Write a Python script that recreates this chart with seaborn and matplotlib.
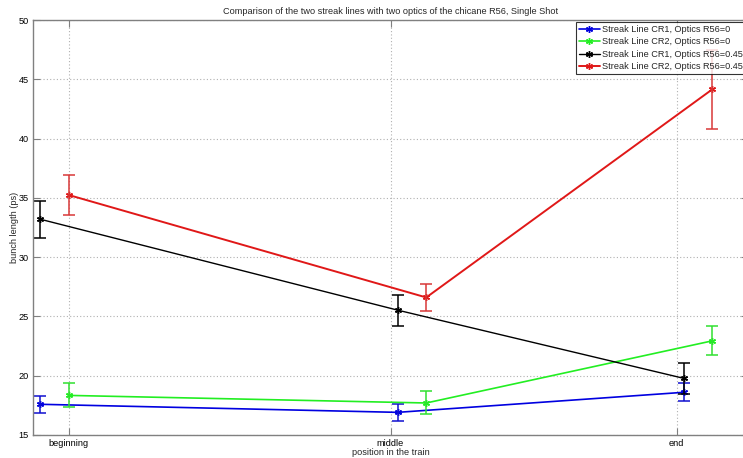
import numpy as np
import pandas as pd
import matplotlib
matplotlib.use("Agg")
import matplotlib.pyplot as plt
import seaborn as sns

# ---- data ----
tick_pos = [5, 50, 90]
tick_labels = ["beginning", "middle", "end"]
x_cr1 = [1, 51, 91]
x_cr2 = [5, 55, 95]

cr1_r0 = [17.59, 16.91, 18.60]
cr1_r0_err = [0.73, 0.74, 0.77]
cr2_r0 = [18.34, 17.70, 22.94]
cr2_r0_err = [1.02, 0.97, 1.22]
cr1_r45 = [33.20, 25.53, 19.78]
cr1_r45_err = [1.56, 1.30, 1.33]
cr2_r45 = [35.24, 26.60, 44.15]
cr2_r45_err = [1.70, 1.14, 3.35]

series_names = ["Streak Line CR1, Optics R56=0",
                "Streak Line CR2, Optics R56=0",
                "Streak Line CR1, Optics R56=0.45",
                "Streak Line CR2, Optics R56=0.45"]
series_x = [x_cr1, x_cr2, x_cr1, x_cr2]
series_y = [cr1_r0, cr2_r0, cr1_r45, cr2_r45]
series_err = [cr1_r0_err, cr2_r0_err, cr1_r45_err, cr2_r45_err]
colors = ["#0000e0", "#22ee22", "#000000", "#e01818"]
err_colors = ["#1010d0", "#30e030", "#000000", "#d83838"]
lws = [1.2, 1.2, 1.0, 1.4]

rows = []
for name, xs, ys, es in zip(series_names, series_x, series_y, series_err):
    for xv, yv, ev in zip(xs, ys, es):
        rows.append({"series": name, "x": xv, "y": yv, "err": ev})
df = pd.DataFrame(rows)

FS = 6.6
sns.set_style("white")
plt.rcParams['font.family'] = ['Liberation Sans', 'DejaVu Sans']
plt.rcParams['font.size'] = FS

fig = plt.figure(figsize=(7.43, 4.58), dpi=100)
ax = fig.add_axes([33/743, 23/458, 715/743, 415/458])

for i, name in enumerate(series_names):
    sub = df[df["series"] == name]
    sns.lineplot(data=sub, x="x", y="y", ax=ax, color=colors[i], lw=lws[i],
                 marker=(6, 2, 0), markersize=5, markeredgewidth=1.0,
                 markeredgecolor=colors[i], label=name, sort=False,
                 estimator=None, errorbar=None)
    ax.errorbar(sub["x"], sub["y"], yerr=sub["err"], fmt="none",
                ecolor=err_colors[i], elinewidth=1.1, capsize=4.3,
                capthick=1.1, zorder=2)

ax.set_xlim(0, 100)
ax.set_ylim(15, 50)
ax.set_xticks(tick_pos)
ax.set_xticklabels(tick_labels)
ax.set_yticks([15, 20, 25, 30, 35, 40, 45, 50])
ax.grid(True, linestyle=(0, (1, 2)), color="#b0b0b0", lw=0.8)
for s in ax.spines.values():
    s.set_color("#808080")
    s.set_linewidth(1.0)
ax.tick_params(direction="in", length=5, color="#808080", labelsize=FS,
               pad=3, bottom=True, left=True, top=True, right=True,
               labelcolor="black")
ax.set_xlabel("position in the train", fontsize=FS, labelpad=0)
ax.set_ylabel("bunch length (ps)", fontsize=FS, labelpad=0)
ax.set_title("Comparison of the two streak lines with two optics of the chicane R56, Single Shot",
             fontsize=FS, pad=4)

leg = ax.legend(loc="upper left", bbox_to_anchor=((576 - 33) / 715, 1.0 - 2/415),
                frameon=True, fancybox=False, fontsize=FS, handlelength=2.3,
                borderpad=0.3, labelspacing=0.38, handletextpad=0.2,
                borderaxespad=0)
leg.get_frame().set_edgecolor("#000000")
leg.get_frame().set_linewidth(0.8)

fig.savefig("out.png", dpi=100)
